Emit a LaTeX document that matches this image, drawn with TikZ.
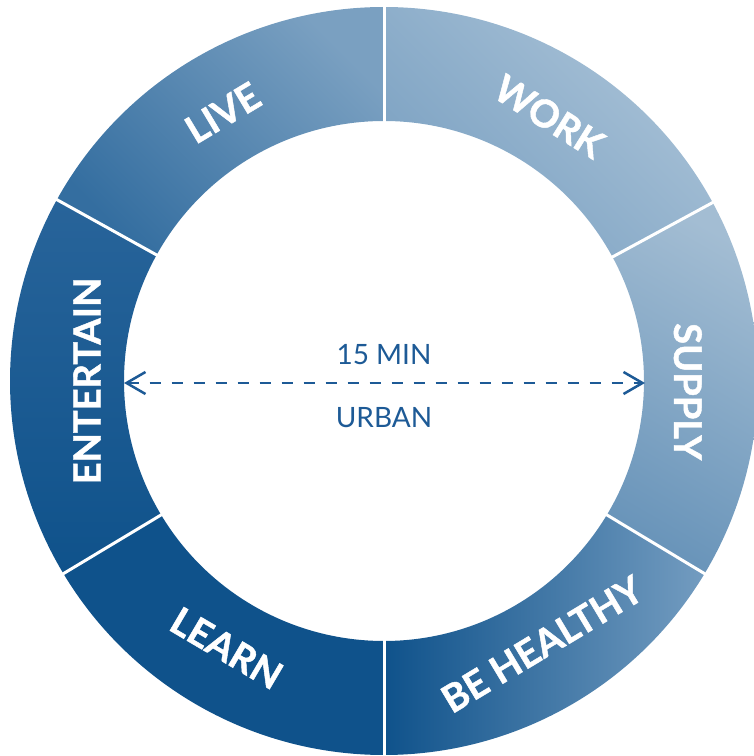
\documentclass[tikz,border=0pt]{standalone}
\usepackage{fontspec}
\setmainfont{Lato}
\newfontfamily\heavyfont{Lato}[BoldFeatures={FakeBold=1.2}]
\usetikzlibrary{arrows.meta}
\definecolor{dkblue}{HTML}{0F528B}
\definecolor{txtblue}{HTML}{1D5A96}
\newcommand\ringseg[2]{(#1:374pt) arc[start angle=#1,end angle=#2,radius=374pt] -- (#2:260pt) arc[start angle=#2,end angle=#1,radius=260pt] -- cycle}
\begin{document}
\begin{tikzpicture}[x=1pt,y=1pt,
  lbl/.style={text=white,font=\heavyfont\fontsize{38}{40}\selectfont\bfseries,inner sep=0pt},
  ctext/.style={text=txtblue,font=\fontsize{28}{30}\selectfont,inner sep=0pt},
  divider/.style={draw=white,line width=3pt},
  dimline/.style={draw=txtblue,line width=2.5pt,dash pattern=on 11pt off 11pt,
    {Straight Barb[length=19pt,width=22pt,line width=2.5pt]}-{Straight Barb[length=19pt,width=22pt,line width=2.5pt]}}]
\useasboundingbox (0,0) rectangle (754,756);
\clip (0,0) rectangle (754,756);
\begin{scope}[shift={(384,375)}]
  % segments
  \shade[top color={rgb,255:red,169;green,194;blue,215},bottom color={rgb,255:red,123;green,161;blue,194},shading angle=-45] \ringseg{28.5}{90};
  \shade[top color={rgb,255:red,122;green,160;blue,193},bottom color={rgb,255:red,52;green,110;blue,160},shading angle=-45] \ringseg{90}{151};
  \shade[top color={rgb,255:red,40;green,100;blue,154},bottom color=dkblue,shading angle=0] \ringseg{151}{211};
  \fill[dkblue] \ringseg{211}{270};
  \shade[left color=dkblue,right color={rgb,255:red,115;green,156;blue,192}] \ringseg{270}{329};
  \shade[top color={rgb,255:red,163;green,189;blue,211},bottom color={rgb,255:red,106;green,149;blue,186},shading angle=-30] \ringseg{-31}{28.5};
  % dividers
  \draw[divider] (90:258pt) -- (90:376pt);
  \draw[divider] (28.5:258pt) -- (28.5:376pt);
  \draw[divider] (151:258pt) -- (151:376pt);
  \draw[divider] (211:258pt) -- (211:376pt);
  \draw[divider] (270:258pt) -- (270:376pt);
  \draw[divider] (329:258pt) -- (329:376pt);
  % labels
  \node[lbl,rotate=-32] (work) at (58:312pt) {WORK};
  \node[lbl,rotate=31] (live) at (121:313pt) {LIVE};
  \node[lbl,rotate=90] (entertain) at (180:297pt) {ENTERTAIN};
  \node[lbl,rotate=-30.5] (learn) at (239.5:310pt) {LEARN};
  \node[lbl,rotate=31] (behealthy) at (-59:307pt) {BE HEALTHY};
  \node[lbl,rotate=-90] (supply) at (-2:304pt) {SUPPLY};
  % centre
  \coordinate (leftend) at (-260,-2);
  \coordinate (rightend) at (261,-2);
  \draw[dimline] (leftend) -- (rightend);
  \node[ctext] (min) at (0,26) {15 MIN};
  \node[ctext] (urban) at (0,-37) {URBAN};
\end{scope}
\end{tikzpicture}
\end{document}
